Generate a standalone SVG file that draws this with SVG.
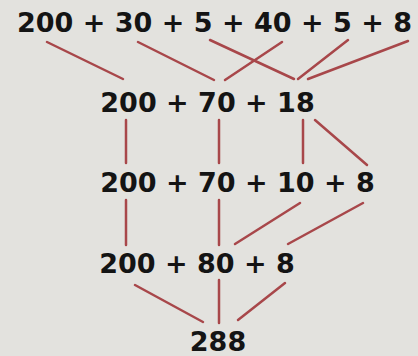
<svg xmlns="http://www.w3.org/2000/svg" width="418" height="356" viewBox="0 0 418 356">
<style>
.t{font-family:"DejaVu Sans","Verdana",sans-serif;font-weight:bold;font-size:27px;fill:#141414;text-anchor:middle}
.c line{stroke:#a8474a;stroke-width:2.5;stroke-linecap:round}
</style>
<rect width="418" height="356" fill="#e3e2de"/>
<g class="c" id="connectors">
<line x1="47" y1="42" x2="123" y2="79"/>
<line x1="138" y1="42" x2="214" y2="80"/>
<line x1="210" y1="40" x2="294" y2="79"/>
<line x1="282" y1="42" x2="225" y2="80"/>
<line x1="348" y1="40" x2="298" y2="79"/>
<line x1="408" y1="41" x2="308" y2="79"/>
<line x1="126" y1="120" x2="126" y2="163"/>
<line x1="219" y1="120" x2="219" y2="163"/>
<line x1="303" y1="120" x2="303" y2="163"/>
<line x1="315" y1="120" x2="367" y2="165"/>
<line x1="126" y1="200" x2="126" y2="245"/>
<line x1="219" y1="200" x2="219" y2="245"/>
<line x1="300" y1="203" x2="235" y2="244"/>
<line x1="363" y1="203" x2="288" y2="244"/>
<line x1="135" y1="285" x2="203" y2="322"/>
<line x1="219" y1="280" x2="219" y2="323"/>
<line x1="285" y1="283" x2="238" y2="320"/>
</g>
<g id="n1"><text class="t" x="214.5" y="32">200 + 30 + 5 + 40 + 5 + 8</text></g>
<g id="n2"><text class="t" x="207.5" y="112">200 + 70 + 18</text></g>
<g id="n3"><text class="t" x="237.5" y="192">200 + 70 + 10 + 8</text></g>
<g id="n4"><text class="t" x="197" y="273">200 + 80 + 8</text></g>
<g id="n5"><text class="t" x="218" y="351">288</text></g>
</svg>
